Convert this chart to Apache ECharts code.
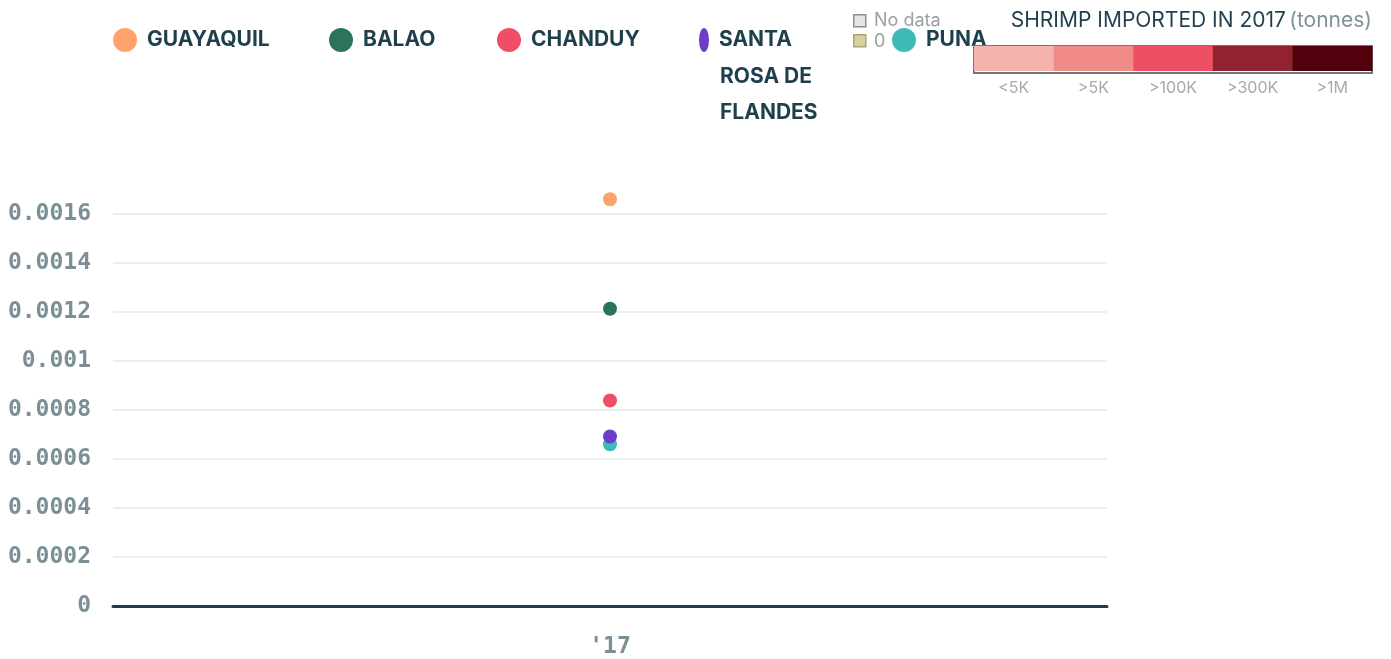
<!DOCTYPE html>
<html><head><meta charset="utf-8">
<script src="https://cdn.jsdelivr.net/npm/echarts@6/dist/echarts.min.js"></script>
<style>html,body{margin:0;padding:0;background:#fff}#c{width:1391px;height:659px}</style>
</head><body><div id="c"></div>
<script>
const categories = ["'17"];
const seriesNames = ['GUAYAQUIL','BALAO','CHANDUY','SANTA ROSA DE FLANDES','PUNA'];
const guayaquil = [0.00166];
const balao = [0.001213];
const chanduy = [0.000839];
const santaRosa = [0.000692];
const puna = [0.00066];
const colors = ['#ffa26d','#2c7459','#ee4f66','#6d3ec9','#3fbab8'];
const scaleLabels = ['<5K','>5K','>100K','>300K','>1M'];
const scaleColors = ['#f4b4ab','#f08a88','#ee4f63','#92222f','#52000c'];

const valuesByName = {
  'GUAYAQUIL': guayaquil, 'BALAO': balao, 'CHANDUY': chanduy,
  'SANTA ROSA DE FLANDES': santaRosa, 'PUNA': puna
};
const drawOrder = ['GUAYAQUIL','BALAO','CHANDUY','PUNA','SANTA ROSA DE FLANDES'];

const chart = echarts.init(document.getElementById('c'));
const legendFont = {fontFamily:'Inter', fontWeight:700, fontSize:21, color:'#1e3f4c'};
const legendLefts = [113, 329, 497, 699, 892];
const legends = seriesNames.map((n,i)=>({
  data:[{name:n, icon: n==='SANTA ROSA DE FLANDES' ? 'path://M5,0A5,12,0,1,1,5,24A5,12,0,1,1,5,0Z' : 'circle'}],
  left: legendLefts[i], top: 28,
  itemWidth: n==='SANTA ROSA DE FLANDES' ? 10 : 24, itemHeight: 24, itemGap: 0, padding: 0,
  formatter: n==='SANTA ROSA DE FLANDES' ? ()=>'SANTA' : '{name}',
  textStyle: Object.assign({padding:[0,0,0,5]}, legendFont),
  selectedMode:false, z: 5
}));

const cellW = 79.6;
const graphics = [
  // No data / 0 key
  {type:'rect', left:853, top:14, shape:{width:12,height:12}, style:{fill:'#e6e6e6', stroke:'#8a8f91', lineWidth:1.5}, z:1},
  {type:'text', left:874, top:12, style:{text:'No data', fill:'#9aa1a4', font:'18px Inter'}, z:1},
  {type:'rect', left:853, top:34, shape:{width:12,height:12}, style:{fill:'#d8cfa2', stroke:'#b0a36f', lineWidth:1.5}, z:1},
  {type:'text', left:874, top:33, style:{text:'0', fill:'#9aa1a4', font:'18px Inter'}, z:1},
  // Santa Rosa extra lines
  {type:'text', left:720, top:66, style:{text:'ROSA DE', fill:'#1e3f4c', font:'bold 21px Inter'}},
  {type:'text', left:720, top:102, style:{text:'FLANDES', fill:'#1e3f4c', font:'bold 21px Inter'}},
  // title
  {type:'text', right:19, top:10, z:20, style:{text:'{a|SHRIMP IMPORTED IN 2017} {b|(tonnes)}',
    rich:{a:{fill:'#1e3f4c', font:'21px Inter'}, b:{fill:'#7f9298', font:'21px Inter'}}}},
  {type:'rect', z:20, left:973, top:45, shape:{width:398,height:27}, style:{fill:'#fff', stroke:'#6b7a7f', lineWidth:2}}
];
scaleColors.forEach((c,i)=>{
  graphics.push({type:'rect', z:21, left:974+i*cellW, top:46, shape:{width:cellW+0.5,height:25}, style:{fill:c}});
  graphics.push({type:'text', z:21, x:974+i*cellW+cellW/2, y:88, style:{text:scaleLabels[i], fill:'#a3abae', font:'16px Inter', align:'center', verticalAlign:'middle'}});
});

chart.setOption({
  animation:false,
  color: colors,
  legend: legends,
  grid:{left:113, right:284, top:214, bottom:52},
  xAxis:{type:'category', data:categories,
    axisLine:{lineStyle:{color:'#1d3f4d', width:3}},
    axisTick:{show:false},
    axisLabel:{margin:30, color:'#7b8f96', fontFamily:'DejaVu Sans Mono', fontWeight:'bold', fontSize:23}},
  yAxis:{type:'value', min:0, max:0.0016, interval:0.0002,
    axisLine:{show:false}, axisTick:{show:false},
    splitLine:{lineStyle:{color:'#e4e9e8', width:1.5}},
    axisLabel:{margin:22, color:'#7b8f96', fontFamily:'DejaVu Sans Mono', fontWeight:'bold', fontSize:23,
      formatter: v => v===0 ? '0' : String(+v.toFixed(4))}},
  series: drawOrder.map(n=>({
    name:n, type:'scatter', data: valuesByName[n], clip:false,
    symbol:'circle', symbolSize:14,
    itemStyle:{color: colors[seriesNames.indexOf(n)], opacity:1}
  })),
  graphic: graphics
});
</script></body></html>
